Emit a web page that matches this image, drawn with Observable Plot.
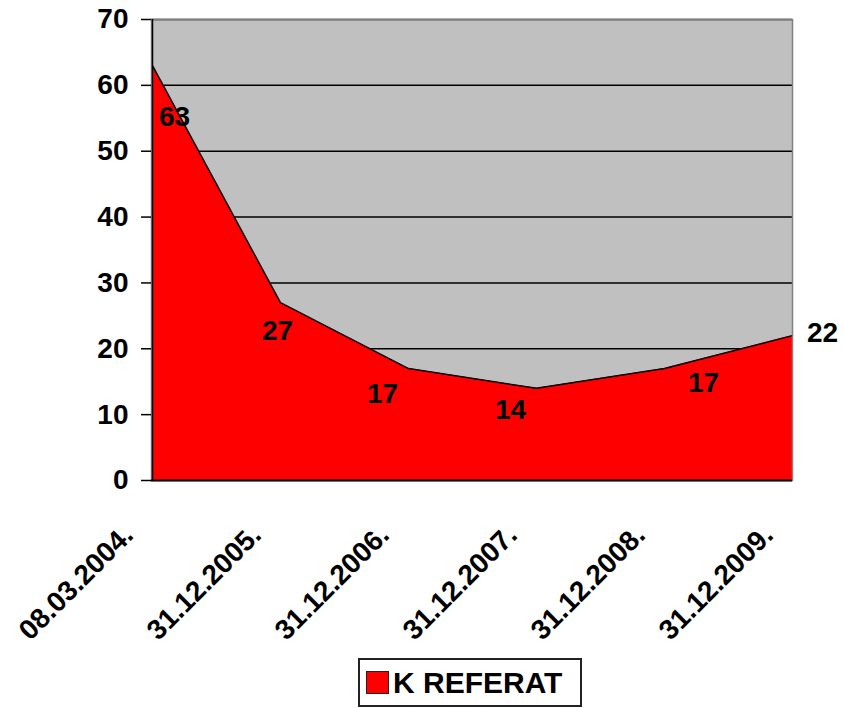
<!DOCTYPE html>
<html>
<head>
<meta charset="utf-8">
<script src="https://cdn.jsdelivr.net/npm/d3@7"></script>
<script src="https://cdn.jsdelivr.net/npm/@observablehq/plot@0.6"></script>
<style>
  html, body { margin: 0; padding: 0; background: #fff; }
  body { width: 844px; font-family: "Liberation Sans", Arial, sans-serif; }
  #legend {
    margin: 8px 0 0 358px;
    width: 220px; height: 45px;
    border: 2px solid #222;
    display: flex; align-items: center;
    box-sizing: content-box;
    font-weight: bold; font-size: 30px; color: #000;
  }
  #legend .sw { width: 21px; height: 21px; background: #ff0000; border: 1.5px solid #222; margin-left: 6px; margin-right: 4px; }
</style>
</head>
<body>
<div id="chart"></div>
<div id="legend"><div class="sw"></div><span>K REFERAT</span></div>
<script>
const dates = ["08.03.2004.", "31.12.2005.", "31.12.2006.", "31.12.2007.", "31.12.2008.", "31.12.2009."];
const values = [63, 27, 17, 14, 17, 22];
const yTicks = [0, 10, 20, 30, 40, 50, 60, 70];
const seriesName = "K REFERAT";

const data = dates.map((d, i) => ({date: d, value: values[i], i}));

// Excel-style label offsets (dx, dy) per point
const labelOffsets = [[22, 51], [-3, 28], [-26, 25], [-26, 22], [39, 14], [30, -3]];

const font = "'Liberation Sans', Arial, sans-serif";

const chart = Plot.plot({
  width: 844,
  height: 650,
  marginLeft: 151,
  marginRight: 52,
  marginTop: 19,
  marginBottom: 170,
  style: {fontFamily: font, fontSize: "28px", fontWeight: "bold", color: "#000", background: "#fff"},
  x: {type: "point", domain: dates, padding: 0, axis: null},
  y: {domain: [0, 70], axis: null},
  marks: [
    Plot.frame({fill: "#c0c0c0", stroke: null}),
    Plot.ruleY(yTicks.filter(t => t > 0), {stroke: "#000", strokeWidth: 1.5}),
    Plot.areaY(data, {x: "date", y: "value", fill: "#ff0000", curve: "linear"}),
    Plot.lineY(data, {x: "date", y: "value", stroke: "#000", strokeWidth: 1.5}),
    Plot.frame({stroke: "#808080", strokeWidth: 1.5}),
    Plot.ruleX([dates[0]], {stroke: "#000", strokeWidth: 1.5}),
    Plot.ruleY([0], {stroke: "#000", strokeWidth: 2}),
    Plot.axisY({ticks: yTicks, label: null, tickSize: 10, tickPadding: 13, fontSize: 28, fontWeight: "bold", stroke: "#000", strokeWidth: 1.5}),
    Plot.text(dates, {x: d => d, frameAnchor: "bottom", rotate: -45, textAnchor: "end", lineAnchor: "middle", dx: -24, dy: 50, fontSize: 28, fontWeight: "bold", fill: "#000"}),
    ...labelOffsets.map(([dx, dy], k) =>
      Plot.text(data.filter(d => d.i === k), {x: "date", y: "value", text: d => String(d.value), dx, dy, fontSize: 28, fontWeight: "bold", fill: "#000"})
    )
  ]
});
document.getElementById("chart").appendChild(chart);
</script>
</body>
</html>
